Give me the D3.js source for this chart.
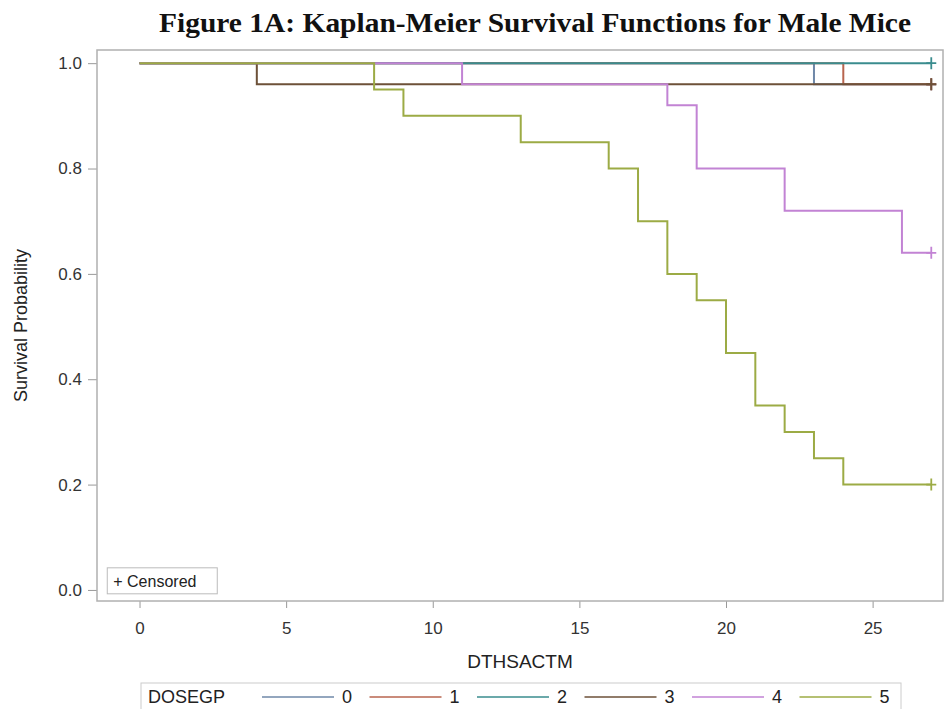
<!DOCTYPE html>
<html>
<head>
<meta charset="utf-8">
<script src="https://cdn.jsdelivr.net/npm/d3@7"></script>
<style>
  body { margin: 0; background: #fff; }
  text { font-family: "Liberation Sans", Arial, sans-serif; }
</style>
</head>
<body>
<div id="chart-area"></div>
<script>
// groups, colours and step data
var groups = ["0", "1", "2", "3", "4", "5"];
var colors = ["#6f88a8", "#b8654f", "#3a8c8e", "#6d5139", "#c283d4", "#9cab45"];

var times0 = [0, 23],  surv0 = [1.0, 0.96];
var times1 = [0, 24],  surv1 = [1.0, 0.96];
var times2 = [0],      surv2 = [1.0];
var times3 = [0, 4],   surv3 = [1.0, 0.96];
var times4 = [0, 11, 18, 19, 22, 26];
var surv4  = [1.0, 0.96, 0.92, 0.80, 0.72, 0.64];
var times5 = [0, 8, 9, 13, 16, 17, 18, 19, 20, 21, 22, 23, 24];
var surv5  = [1.0, 0.95, 0.90, 0.85, 0.80, 0.70, 0.60, 0.55, 0.45, 0.35, 0.30, 0.25, 0.20];
var censorTime = 27;

var xTicks = [0, 5, 10, 15, 20, 25];
var yTicks = [0.0, 0.2, 0.4, 0.6, 0.8, 1.0];

var allTimes = [times0, times1, times2, times3, times4, times5];
var allSurv = [surv0, surv1, surv2, surv3, surv4, surv5];

var W = 945, H = 709;
var margin = { left: 97, right: 2, top: 50, bottom: 108 };
var width = W - margin.left - margin.right,
    height = H - margin.top - margin.bottom;

var svg = d3.select("#chart-area")
    .append("svg")
        .attr("width", W)
        .attr("height", H);

// Title
svg.append("text")
    .attr("x", 535)
    .attr("y", 32)
    .attr("text-anchor", "middle")
    .style("font-family", "'Liberation Serif', 'Times New Roman', serif")
    .attr("font-weight", "bold")
    .attr("font-size", "27px")
    .attr("textLength", 752)
    .attr("lengthAdjust", "spacingAndGlyphs")
    .attr("fill", "#111")
    .text("Figure 1A: Kaplan-Meier Survival Functions for Male Mice");

var g = svg.append("g")
    .attr("transform", "translate(" + margin.left + ", " + margin.top + ")");

// X Scale
var x = d3.scaleLinear()
    .domain([-1.45, 27.4])
    .range([0, width]);

// Y Scale
var y = d3.scaleLinear()
    .domain([-0.021, 1.025])
    .range([height, 0]);

// Axes
var xAxisCall = d3.axisBottom(x).tickValues(xTicks).tickSize(7).tickPadding(14)
    .tickFormat(d3.format("d"));
var xAxisGroup = g.append("g")
    .attr("transform", "translate(0," + height + ")")
    .call(xAxisCall);

var yAxisCall = d3.axisLeft(y).tickValues(yTicks).tickSize(9).tickPadding(6)
    .tickFormat(d3.format(".1f"));
var yAxisGroup = g.append("g")
    .call(yAxisCall);

[xAxisGroup, yAxisGroup].forEach(function(ax) {
    ax.select(".domain").remove();
    ax.selectAll(".tick line").attr("stroke", "#999");
    ax.selectAll(".tick text")
        .attr("fill", "#333")
        .attr("font-size", "17px")
        .style("font-family", "'Liberation Sans', Arial, sans-serif");
});

// Frame
g.append("rect")
    .attr("x", 0)
    .attr("y", 0)
    .attr("width", width)
    .attr("height", height)
    .attr("fill", "none")
    .attr("stroke", "#b0b0b0")
    .attr("stroke-width", 1.5);

// X Label
svg.append("text")
    .attr("x", margin.left + width / 2)
    .attr("y", 668)
    .attr("text-anchor", "middle")
    .attr("font-size", "19px")
    .attr("fill", "#222")
    .text("DTHSACTM");

// Y Label
svg.append("text")
    .attr("transform", "translate(27," + (margin.top + height / 2) + ") rotate(-90)")
    .attr("text-anchor", "middle")
    .attr("font-size", "18px")
    .attr("fill", "#222")
    .text("Survival Probability");

// Survival curves
var line = d3.line()
    .x(function(d) { return x(d[0]); })
    .y(function(d) { return y(d[1]); })
    .curve(d3.curveStepAfter);

groups.forEach(function(grp, i) {
    var pts = allTimes[i].map(function(t, j) { return [t, allSurv[i][j]]; });
    var last = allSurv[i][allSurv[i].length - 1];
    pts.push([censorTime, last]);

    g.append("path")
        .datum(pts)
        .attr("fill", "none")
        .attr("stroke", colors[i])
        .attr("stroke-width", 2)
        .attr("d", line);

    // censored mark
    var cx = x(censorTime), cy = y(last);
    g.append("path")
        .attr("d", "M" + (cx - 5) + "," + cy + "H" + (cx + 5) +
                   "M" + cx + "," + (cy - 6) + "V" + (cy + 6))
        .attr("stroke", colors[i])
        .attr("stroke-width", 1.8)
        .attr("fill", "none");
});

// "+ Censored" inset
var cens = g.append("g")
    .attr("transform", "translate(" + (x(-1.1)) + "," + (y(0.042)) + ")");
cens.append("rect")
    .attr("width", 110)
    .attr("height", 26)
    .attr("fill", "#fff")
    .attr("stroke", "#bbb");
cens.append("text")
    .attr("x", 6)
    .attr("y", 19)
    .attr("font-size", "16px")
    .attr("fill", "#222")
    .text("+ Censored");

// Legend
var legend = svg.append("g")
    .attr("transform", "translate(141,683)");
legend.append("rect")
    .attr("width", 760)
    .attr("height", 27)
    .attr("fill", "#fff")
    .attr("stroke", "#ccc");
legend.append("text")
    .attr("x", 7)
    .attr("y", 20)
    .attr("font-size", "18px")
    .attr("fill", "#222")
    .text("DOSEGP");

var items = legend.selectAll("g.item")
    .data(groups)
    .enter()
    .append("g")
        .attr("class", "item")
        .attr("transform", function(d, i) { return "translate(" + (121 + i * 107.5) + ",0)"; });
items.append("line")
    .attr("x1", 0).attr("x2", 72)
    .attr("y1", 14).attr("y2", 14)
    .attr("stroke", function(d, i) { return colors[i]; })
    .attr("stroke-width", 1.5);
items.append("text")
    .attr("x", 80)
    .attr("y", 20)
    .attr("font-size", "18px")
    .attr("fill", "#222")
    .text(function(d) { return d; });
</script>
</body>
</html>
